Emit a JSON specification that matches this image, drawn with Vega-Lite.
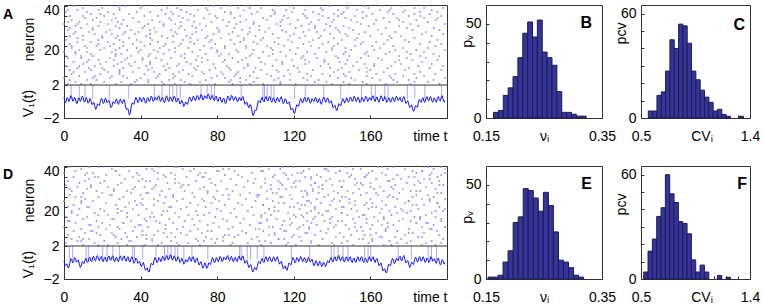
{
"$schema":"https://vega.github.io/schema/vega-lite/v6.json",
"padding":{"left":2,"top":2,"right":2,"bottom":0},
"config":{
 "font":"Liberation Sans",
 "view":{"stroke":"#333333","strokeWidth":1},
 "axis":{"labelFont":"Liberation Sans","labelFontSize":14,"labelColor":"#000000","titleFont":"Liberation Sans","titleFontSize":14,"titleFontWeight":"normal","titleColor":"#000000","domain":false,"grid":false,"tickColor":"#333333","tickSize":-3,"tickWidth":1,"labelOverlap":false,"labelFlush":false},
 "title":{"font":"Liberation Sans","fontWeight":"bold","color":"#000000","frame":"group"}
},
"datasets":{
"va":[{"t":0,"v":0.5},{"t":1,"v":-0.1},{"t":2,"v":0.4},{"t":3,"v":0.2},{"t":4,"v":0.6},{"t":5,"v":0.1},{"t":6,"v":0.3},{"t":7,"v":-0.2},{"t":8,"v":0.4},{"t":9,"v":0.2},
{"t":10,"v":0.5},{"t":11,"v":0.0},{"t":12,"v":0.3},{"t":13,"v":-0.1},{"t":14,"v":0.2},{"t":15,"v":-0.3},{"t":16,"v":-0.5},{"t":17,"v":-0.8},{"t":18,"v":-0.4},{"t":19,"v":0.0},
{"t":20,"v":0.2},{"t":21,"v":-0.1},{"t":22,"v":0.3},{"t":23,"v":0.0},{"t":24,"v":-0.3},{"t":25,"v":-0.6},{"t":26,"v":-0.1},{"t":27,"v":0.2},{"t":28,"v":-0.2},{"t":29,"v":0.1},
{"t":30,"v":-0.1},{"t":31,"v":0.2},{"t":32,"v":-0.4},{"t":33,"v":-0.9},{"t":34,"v":-1.6},{"t":35,"v":-0.8},{"t":36,"v":-0.2},{"t":37,"v":0.1},{"t":38,"v":0.3},{"t":39,"v":0.0},
{"t":40,"v":0.4},{"t":41,"v":0.1},{"t":42,"v":0.3},{"t":43,"v":-0.1},{"t":44,"v":0.4},{"t":45,"v":0.2},{"t":46,"v":0.5},{"t":47,"v":0.1},{"t":48,"v":0.3},{"t":49,"v":0.6},
{"t":50,"v":0.2},{"t":51,"v":0.4},{"t":52,"v":0.0},{"t":53,"v":0.3},{"t":54,"v":0.5},{"t":55,"v":0.1},{"t":56,"v":0.4},{"t":57,"v":0.2},{"t":58,"v":0.5},{"t":59,"v":0.0},
{"t":60,"v":0.2},{"t":61,"v":-0.2},{"t":62,"v":-0.1},{"t":63,"v":-0.5},{"t":64,"v":-0.2},{"t":65,"v":0.1},{"t":66,"v":0.4},{"t":67,"v":0.2},{"t":68,"v":0.5},{"t":69,"v":0.3},
{"t":70,"v":0.6},{"t":71,"v":0.4},{"t":72,"v":0.7},{"t":73,"v":0.3},{"t":74,"v":0.5},{"t":75,"v":0.8},{"t":76,"v":0.4},{"t":77,"v":0.6},{"t":78,"v":0.3},{"t":79,"v":0.5},
{"t":80,"v":0.2},{"t":81,"v":0.4},{"t":82,"v":0.1},{"t":83,"v":0.3},{"t":84,"v":-0.1},{"t":85,"v":0.2},{"t":86,"v":0.5},{"t":87,"v":0.3},{"t":88,"v":0.6},{"t":89,"v":0.2},
{"t":90,"v":0.4},{"t":91,"v":0.1},{"t":92,"v":0.3},{"t":93,"v":0.5},{"t":94,"v":0.1},{"t":95,"v":-0.2},{"t":96,"v":-0.5},{"t":97,"v":-0.4},{"t":98,"v":-1.0},{"t":99,"v":-1.7},
{"t":100,"v":-1.1},{"t":101,"v":-0.4},{"t":102,"v":0.0},{"t":103,"v":0.3},{"t":104,"v":0.1},{"t":105,"v":0.4},{"t":106,"v":0.2},{"t":107,"v":0.5},{"t":108,"v":0.1},{"t":109,"v":0.3},
{"t":110,"v":0.0},{"t":111,"v":0.3},{"t":112,"v":0.1},{"t":113,"v":0.4},{"t":114,"v":0.2},{"t":115,"v":-0.1},{"t":116,"v":0.2},{"t":117,"v":-0.2},{"t":118,"v":-0.5},{"t":119,"v":-0.9},
{"t":120,"v":-1.4},{"t":121,"v":-0.9},{"t":122,"v":-0.5},{"t":123,"v":-0.1},{"t":124,"v":0.2},{"t":125,"v":0.0},{"t":126,"v":0.4},{"t":127,"v":0.1},{"t":128,"v":0.3},{"t":129,"v":-0.1},
{"t":130,"v":0.2},{"t":131,"v":0.4},{"t":132,"v":0.0},{"t":133,"v":0.3},{"t":134,"v":-0.2},{"t":135,"v":0.1},{"t":136,"v":0.4},{"t":137,"v":0.0},{"t":138,"v":0.3},{"t":139,"v":-0.1},
{"t":140,"v":-0.3},{"t":141,"v":-0.6},{"t":142,"v":-0.9},{"t":143,"v":-0.7},{"t":144,"v":-0.4},{"t":145,"v":-0.1},{"t":146,"v":0.2},{"t":147,"v":0.0},{"t":148,"v":0.3},{"t":149,"v":0.1},
{"t":150,"v":0.4},{"t":151,"v":0.2},{"t":152,"v":0.5},{"t":153,"v":0.1},{"t":154,"v":0.3},{"t":155,"v":0.0},{"t":156,"v":0.4},{"t":157,"v":0.2},{"t":158,"v":0.5},{"t":159,"v":0.1},
{"t":160,"v":0.3},{"t":161,"v":0.6},{"t":162,"v":0.2},{"t":163,"v":0.4},{"t":164,"v":0.1},{"t":165,"v":0.3},{"t":166,"v":0.5},{"t":167,"v":0.2},{"t":168,"v":0.4},{"t":169,"v":0.0},
{"t":170,"v":0.3},{"t":171,"v":0.1},{"t":172,"v":0.4},{"t":173,"v":0.2},{"t":174,"v":0.5},{"t":175,"v":0.3},{"t":176,"v":0.1},{"t":177,"v":0.4},{"t":178,"v":0.2},{"t":179,"v":-0.1},
{"t":180,"v":-0.3},{"t":181,"v":-0.6},{"t":182,"v":-0.8},{"t":183,"v":-1.0},{"t":184,"v":-0.6},{"t":185,"v":-0.2},{"t":186,"v":0.1},{"t":187,"v":0.3},{"t":188,"v":0.0},{"t":189,"v":0.4},
{"t":190,"v":0.2},{"t":191,"v":0.5},{"t":192,"v":0.1},{"t":193,"v":0.3},{"t":194,"v":0.0},{"t":195,"v":0.4},{"t":196,"v":0.2},{"t":197,"v":0.5},{"t":198,"v":0.3},{"t":199,"v":0.1},
{"t":0.5,"v":-0.1},{"t":1.5,"v":0.45},{"t":2.5,"v":0.0},{"t":3.5,"v":0.7},{"t":4.5,"v":0.05},{"t":5.5,"v":0.5},{"t":6.5,"v":-0.25},{"t":7.5,"v":0.4},{"t":8.5,"v":0.0},{"t":9.5,"v":0.65},
{"t":10.5,"v":-0.05},{"t":11.5,"v":0.45},{"t":12.5,"v":-0.2},{"t":13.5,"v":0.35},{"t":14.5,"v":-0.35},{"t":15.5,"v":-0.1},{"t":16.5,"v":-0.95},{"t":17.5,"v":-0.3},{"t":18.5,"v":-0.5},{"t":19.5,"v":0.4},
{"t":20.5,"v":-0.25},{"t":21.5,"v":0.4},{"t":22.5,"v":-0.15},{"t":23.5,"v":0.15},{"t":24.5,"v":-0.75},{"t":25.5,"v":-0.05},{"t":26.5,"v":-0.25},{"t":27.5,"v":0.3},{"t":28.5,"v":-0.35},{"t":29.5,"v":0.3},
{"t":30.5,"v":-0.25},{"t":31.5,"v":0.2},{"t":32.5,"v":-0.95},{"t":33.5,"v":-0.95},{"t":34.5,"v":-1.5},{"t":35.5,"v":-0.2},{"t":36.5,"v":-0.35},{"t":37.5,"v":0.5},{"t":38.5,"v":-0.15},{"t":39.5,"v":0.5},
{"t":40.5,"v":-0.05},{"t":41.5,"v":0.5},{"t":42.5,"v":-0.2},{"t":43.5,"v":0.45},{"t":44.5,"v":0.0},{"t":45.5,"v":0.65},{"t":46.5,"v":0.0},{"t":47.5,"v":0.5},{"t":48.5,"v":0.15},{"t":49.5,"v":0.7},
{"t":50.5,"v":0.0},{"t":51.5,"v":0.5},{"t":52.5,"v":-0.15},{"t":53.5,"v":0.7},{"t":54.5,"v":0.0},{"t":55.5,"v":0.55},{"t":56.5,"v":0.0},{"t":57.5,"v":0.65},{"t":58.5,"v":-0.05},{"t":59.5,"v":0.4},
{"t":60.5,"v":-0.3},{"t":61.5,"v":0.15},{"t":62.5,"v":-0.6},{"t":63.5,"v":-0.05},{"t":64.5,"v":-0.35},{"t":65.5,"v":0.55},{"t":66.5,"v":0.0},{"t":67.5,"v":0.65},{"t":68.5,"v":0.1},{"t":69.5,"v":0.75},
{"t":70.5,"v":0.2},{"t":71.5,"v":0.85},{"t":72.5,"v":0.2},{"t":73.5,"v":0.7},{"t":74.5,"v":0.35},{"t":75.5,"v":0.9},{"t":76.5,"v":0.2},{"t":77.5,"v":0.75},{"t":78.5,"v":0.1},{"t":79.5,"v":0.65},
{"t":80.5,"v":0.0},{"t":81.5,"v":0.55},{"t":82.5,"v":-0.1},{"t":83.5,"v":0.4},{"t":84.5,"v":-0.25},{"t":85.5,"v":0.65},{"t":86.5,"v":0.1},{"t":87.5,"v":0.75},{"t":88.5,"v":0.1},{"t":89.5,"v":0.6},
{"t":90.5,"v":-0.05},{"t":91.5,"v":0.5},{"t":92.5,"v":0.1},{"t":93.5,"v":0.6},{"t":94.5,"v":-0.35},{"t":95.5,"v":-0.05},{"t":96.5,"v":-0.75},{"t":97.5,"v":-0.4},{"t":98.5,"v":-1.65},{"t":99.5,"v":-1.1},
{"t":100.5,"v":-1.05},{"t":101.5,"v":0.1},{"t":102.5,"v":-0.15},{"t":103.5,"v":0.5},{"t":104.5,"v":-0.05},{"t":105.5,"v":0.6},{"t":106.5,"v":0.05},{"t":107.5,"v":0.6},{"t":108.5,"v":-0.1},{"t":109.5,"v":0.45},
{"t":110.5,"v":-0.15},{"t":111.5,"v":0.5},{"t":112.5,"v":-0.05},{"t":113.5,"v":0.6},{"t":114.5,"v":-0.25},{"t":115.5,"v":0.35},{"t":116.5,"v":-0.3},{"t":117.5,"v":-0.05},{"t":118.5,"v":-1.0},{"t":119.5,"v":-0.85},
{"t":120.5,"v":-1.45},{"t":121.5,"v":-0.4},{"t":122.5,"v":-0.6},{"t":123.5,"v":0.35},{"t":124.5,"v":-0.2},{"t":125.5,"v":0.5},{"t":126.5,"v":-0.05},{"t":127.5,"v":0.5},{"t":128.5,"v":-0.2},{"t":129.5,"v":0.35},
{"t":130.5,"v":0.0},{"t":131.5,"v":0.5},{"t":132.5,"v":-0.15},{"t":133.5,"v":0.35},{"t":134.5,"v":-0.35},{"t":135.5,"v":0.55},{"t":136.5,"v":-0.1},{"t":137.5,"v":0.45},{"t":138.5,"v":-0.2},{"t":139.5,"v":0.1},
{"t":140.5,"v":-0.75},{"t":141.5,"v":-0.45},{"t":142.5,"v":-1.1},{"t":143.5,"v":-0.25},{"t":144.5,"v":-0.55},{"t":145.5,"v":0.35},{"t":146.5,"v":-0.2},{"t":147.5,"v":0.45},{"t":148.5,"v":-0.1},{"t":149.5,"v":0.55},
{"t":150.5,"v":0.0},{"t":151.5,"v":0.65},{"t":152.5,"v":0.0},{"t":153.5,"v":0.5},{"t":154.5,"v":-0.15},{"t":155.5,"v":0.5},{"t":156.5,"v":0.0},{"t":157.5,"v":0.65},{"t":158.5,"v":0.0},{"t":159.5,"v":0.5},
{"t":160.5,"v":0.15},{"t":161.5,"v":0.7},{"t":162.5,"v":0.0},{"t":163.5,"v":0.55},{"t":164.5,"v":-0.1},{"t":165.5,"v":0.7},{"t":166.5,"v":0.05},{"t":167.5,"v":0.6},{"t":168.5,"v":-0.1},{"t":169.5,"v":0.45},
{"t":170.5,"v":-0.1},{"t":171.5,"v":0.55},{"t":172.5,"v":0.0},{"t":173.5,"v":0.65},{"t":174.5,"v":0.1},{"t":175.5,"v":0.5},{"t":176.5,"v":-0.05},{"t":177.5,"v":0.6},{"t":178.5,"v":-0.25},{"t":179.5,"v":0.1},
{"t":180.5,"v":-0.75},{"t":181.5,"v":-0.4},{"t":182.5,"v":-1.2},{"t":183.5,"v":-0.5},{"t":184.5,"v":-0.7},{"t":185.5,"v":0.25},{"t":186.5,"v":-0.1},{"t":187.5,"v":0.45},{"t":188.5,"v":-0.1},{"t":189.5,"v":0.6},
{"t":190.5,"v":0.05},{"t":191.5,"v":0.6},{"t":192.5,"v":-0.1},{"t":193.5,"v":0.45},{"t":194.5,"v":-0.1},{"t":195.5,"v":0.6},{"t":196.5,"v":0.05},{"t":197.5,"v":0.7},{"t":198.5,"v":-0.1}],
"vd":[{"t":0,"v":0.2},{"t":1,"v":-0.3},{"t":2,"v":-0.6},{"t":3,"v":-0.1},{"t":4,"v":0.4},{"t":5,"v":0.1},{"t":6,"v":0.5},{"t":7,"v":0.2},{"t":8,"v":-0.2},{"t":9,"v":-0.4},
{"t":10,"v":0.0},{"t":11,"v":0.3},{"t":12,"v":0.1},{"t":13,"v":0.5},{"t":14,"v":0.2},{"t":15,"v":0.6},{"t":16,"v":0.3},{"t":17,"v":0.7},{"t":18,"v":0.4},{"t":19,"v":0.6},
{"t":20,"v":0.3},{"t":21,"v":0.5},{"t":22,"v":0.2},{"t":23,"v":0.6},{"t":24,"v":0.4},{"t":25,"v":0.7},{"t":26,"v":0.3},{"t":27,"v":0.5},{"t":28,"v":0.2},{"t":29,"v":0.6},
{"t":30,"v":0.4},{"t":31,"v":0.7},{"t":32,"v":0.3},{"t":33,"v":0.6},{"t":34,"v":0.2},{"t":35,"v":0.5},{"t":36,"v":0.3},{"t":37,"v":0.1},{"t":38,"v":0.4},{"t":39,"v":0.0},
{"t":40,"v":-0.3},{"t":41,"v":-0.1},{"t":42,"v":-0.5},{"t":43,"v":-0.8},{"t":44,"v":-1.1},{"t":45,"v":-0.6},{"t":46,"v":-0.2},{"t":47,"v":0.2},{"t":48,"v":0.4},{"t":49,"v":0.1},
{"t":50,"v":0.5},{"t":51,"v":0.3},{"t":52,"v":0.6},{"t":53,"v":0.4},{"t":54,"v":0.7},{"t":55,"v":0.5},{"t":56,"v":0.8},{"t":57,"v":0.4},{"t":58,"v":0.6},{"t":59,"v":0.3},
{"t":60,"v":0.5},{"t":61,"v":0.1},{"t":62,"v":0.3},{"t":63,"v":-0.1},{"t":64,"v":0.2},{"t":65,"v":0.5},{"t":66,"v":0.3},{"t":67,"v":0.6},{"t":68,"v":0.2},{"t":69,"v":0.4},
{"t":70,"v":0.1},{"t":71,"v":-0.1},{"t":72,"v":-0.3},{"t":73,"v":-0.5},{"t":74,"v":-0.2},{"t":75,"v":-0.6},{"t":76,"v":-0.1},{"t":77,"v":0.2},{"t":78,"v":0.4},{"t":79,"v":0.1},
{"t":80,"v":0.5},{"t":81,"v":0.3},{"t":82,"v":0.6},{"t":83,"v":0.2},{"t":84,"v":0.5},{"t":85,"v":0.7},{"t":86,"v":0.4},{"t":87,"v":0.6},{"t":88,"v":0.3},{"t":89,"v":0.5},
{"t":90,"v":0.2},{"t":91,"v":0.6},{"t":92,"v":0.4},{"t":93,"v":0.7},{"t":94,"v":0.3},{"t":95,"v":0.1},{"t":96,"v":-0.2},{"t":97,"v":-0.4},{"t":98,"v":-0.7},{"t":99,"v":-1.0},
{"t":100,"v":-0.8},{"t":101,"v":-0.4},{"t":102,"v":0.0},{"t":103,"v":0.3},{"t":104,"v":0.1},{"t":105,"v":0.5},{"t":106,"v":0.3},{"t":107,"v":0.6},{"t":108,"v":0.2},{"t":109,"v":0.5},
{"t":110,"v":0.3},{"t":111,"v":0.6},{"t":112,"v":0.2},{"t":113,"v":0.0},{"t":114,"v":-0.3},{"t":115,"v":-0.6},{"t":116,"v":-0.8},{"t":117,"v":-0.5},{"t":118,"v":-0.2},{"t":119,"v":0.2},
{"t":120,"v":0.4},{"t":121,"v":0.1},{"t":122,"v":0.5},{"t":123,"v":0.3},{"t":124,"v":0.6},{"t":125,"v":0.2},{"t":126,"v":0.4},{"t":127,"v":0.1},{"t":128,"v":0.5},{"t":129,"v":0.2},
{"t":130,"v":0.0},{"t":131,"v":-0.2},{"t":132,"v":0.1},{"t":133,"v":-0.3},{"t":134,"v":0.0},{"t":135,"v":-0.4},{"t":136,"v":-0.1},{"t":137,"v":-0.3},{"t":138,"v":0.1},{"t":139,"v":0.4},
{"t":140,"v":0.2},{"t":141,"v":0.5},{"t":142,"v":0.3},{"t":143,"v":0.7},{"t":144,"v":0.4},{"t":145,"v":0.6},{"t":146,"v":0.2},{"t":147,"v":0.5},{"t":148,"v":0.3},{"t":149,"v":0.6},
{"t":150,"v":0.2},{"t":151,"v":0.4},{"t":152,"v":0.1},{"t":153,"v":0.5},{"t":154,"v":0.3},{"t":155,"v":0.6},{"t":156,"v":0.2},{"t":157,"v":0.4},{"t":158,"v":0.1},{"t":159,"v":0.5},
{"t":160,"v":0.3},{"t":161,"v":0.6},{"t":162,"v":0.2},{"t":163,"v":0.4},{"t":164,"v":0.0},{"t":165,"v":-0.2},{"t":166,"v":-0.5},{"t":167,"v":-0.9},{"t":168,"v":-1.2},{"t":169,"v":-0.7},
{"t":170,"v":-0.3},{"t":171,"v":0.1},{"t":172,"v":0.3},{"t":173,"v":0.0},{"t":174,"v":0.4},{"t":175,"v":0.6},{"t":176,"v":0.3},{"t":177,"v":0.7},{"t":178,"v":0.4},{"t":179,"v":0.1},
{"t":180,"v":-0.2},{"t":181,"v":-0.4},{"t":182,"v":-0.1},{"t":183,"v":0.2},{"t":184,"v":0.5},{"t":185,"v":0.2},{"t":186,"v":0.6},{"t":187,"v":0.3},{"t":188,"v":0.5},{"t":189,"v":0.1},
{"t":190,"v":0.4},{"t":191,"v":0.2},{"t":192,"v":0.6},{"t":193,"v":0.3},{"t":194,"v":0.0},{"t":195,"v":0.4},{"t":196,"v":0.1},{"t":197,"v":-0.1},{"t":198,"v":0.2},{"t":199,"v":0.0},
{"t":0.5,"v":-0.35},{"t":1.5,"v":-0.15},{"t":2.5,"v":-0.65},{"t":3.5,"v":0.45},{"t":4.5,"v":-0.05},{"t":5.5,"v":0.6},{"t":6.5,"v":0.05},{"t":7.5,"v":0.3},{"t":8.5,"v":-0.6},{"t":9.5,"v":0.1},
{"t":10.5,"v":-0.15},{"t":11.5,"v":0.5},{"t":12.5,"v":0.0},{"t":13.5,"v":0.65},{"t":14.5,"v":0.1},{"t":15.5,"v":0.75},{"t":16.5,"v":0.2},{"t":17.5,"v":0.85},{"t":18.5,"v":0.2},{"t":19.5,"v":0.75},
{"t":20.5,"v":0.1},{"t":21.5,"v":0.65},{"t":22.5,"v":0.1},{"t":23.5,"v":0.8},{"t":24.5,"v":0.25},{"t":25.5,"v":0.8},{"t":26.5,"v":0.1},{"t":27.5,"v":0.65},{"t":28.5,"v":0.1},{"t":29.5,"v":0.8},
{"t":30.5,"v":0.25},{"t":31.5,"v":0.8},{"t":32.5,"v":0.15},{"t":33.5,"v":0.7},{"t":34.5,"v":0.05},{"t":35.5,"v":0.7},{"t":36.5,"v":-0.1},{"t":37.5,"v":0.55},{"t":38.5,"v":-0.1},{"t":39.5,"v":0.15},
{"t":40.5,"v":-0.5},{"t":41.5,"v":0.0},{"t":42.5,"v":-0.95},{"t":43.5,"v":-0.65},{"t":44.5,"v":-1.15},{"t":45.5,"v":-0.1},{"t":46.5,"v":-0.3},{"t":47.5,"v":0.6},{"t":48.5,"v":-0.05},{"t":49.5,"v":0.6},
{"t":50.5,"v":0.1},{"t":51.5,"v":0.75},{"t":52.5,"v":0.2},{"t":53.5,"v":0.85},{"t":54.5,"v":0.3},{"t":55.5,"v":0.95},{"t":56.5,"v":0.3},{"t":57.5,"v":0.8},{"t":58.5,"v":0.15},{"t":59.5,"v":0.7},
{"t":60.5,"v":0.0},{"t":61.5,"v":0.5},{"t":62.5,"v":-0.2},{"t":63.5,"v":0.35},{"t":64.5,"v":0.05},{"t":65.5,"v":0.7},{"t":66.5,"v":0.15},{"t":67.5,"v":0.7},{"t":68.5,"v":0.0},{"t":69.5,"v":0.55},
{"t":70.5,"v":-0.3},{"t":71.5,"v":0.1},{"t":72.5,"v":-0.7},{"t":73.5,"v":-0.05},{"t":74.5,"v":-0.7},{"t":75.5,"v":-0.05},{"t":76.5,"v":-0.25},{"t":77.5,"v":0.6},{"t":78.5,"v":-0.05},{"t":79.5,"v":0.6},
{"t":80.5,"v":0.1},{"t":81.5,"v":0.75},{"t":82.5,"v":0.1},{"t":83.5,"v":0.65},{"t":84.5,"v":0.3},{"t":85.5,"v":0.85},{"t":86.5,"v":0.2},{"t":87.5,"v":0.75},{"t":88.5,"v":0.1},{"t":89.5,"v":0.65},
{"t":90.5,"v":0.1},{"t":91.5,"v":0.8},{"t":92.5,"v":0.25},{"t":93.5,"v":0.8},{"t":94.5,"v":-0.1},{"t":95.5,"v":0.25},{"t":96.5,"v":-0.6},{"t":97.5,"v":-0.25},{"t":98.5,"v":-1.15},{"t":99.5,"v":-0.6},
{"t":100.5,"v":-0.9},{"t":101.5,"v":0.1},{"t":102.5,"v":-0.15},{"t":103.5,"v":0.5},{"t":104.5,"v":0.0},{"t":105.5,"v":0.7},{"t":106.5,"v":0.15},{"t":107.5,"v":0.7},{"t":108.5,"v":0.05},{"t":109.5,"v":0.7},
{"t":110.5,"v":0.15},{"t":111.5,"v":0.7},{"t":112.5,"v":-0.2},{"t":113.5,"v":0.15},{"t":114.5,"v":-0.75},{"t":115.5,"v":-0.4},{"t":116.5,"v":-0.95},{"t":117.5,"v":-0.05},{"t":118.5,"v":-0.3},{"t":119.5,"v":0.6},
{"t":120.5,"v":-0.05},{"t":121.5,"v":0.6},{"t":122.5,"v":0.1},{"t":123.5,"v":0.75},{"t":124.5,"v":0.1},{"t":125.5,"v":0.6},{"t":126.5,"v":-0.05},{"t":127.5,"v":0.6},{"t":128.5,"v":0.05},{"t":129.5,"v":0.4},
{"t":130.5,"v":-0.4},{"t":131.5,"v":0.25},{"t":132.5,"v":-0.4},{"t":133.5,"v":0.15},{"t":134.5,"v":-0.5},{"t":135.5,"v":0.05},{"t":136.5,"v":-0.5},{"t":137.5,"v":0.2},{"t":138.5,"v":-0.05},{"t":139.5,"v":0.6},
{"t":140.5,"v":0.05},{"t":141.5,"v":0.7},{"t":142.5,"v":0.2},{"t":143.5,"v":0.85},{"t":144.5,"v":0.2},{"t":145.5,"v":0.7},{"t":146.5,"v":0.05},{"t":147.5,"v":0.7},{"t":148.5,"v":0.15},{"t":149.5,"v":0.7},
{"t":150.5,"v":0.0},{"t":151.5,"v":0.55},{"t":152.5,"v":0.0},{"t":153.5,"v":0.7},{"t":154.5,"v":0.15},{"t":155.5,"v":0.7},{"t":156.5,"v":0.0},{"t":157.5,"v":0.55},{"t":158.5,"v":0.0},{"t":159.5,"v":0.7},
{"t":160.5,"v":0.15},{"t":161.5,"v":0.7},{"t":162.5,"v":0.0},{"t":163.5,"v":0.5},{"t":164.5,"v":-0.4},{"t":165.5,"v":-0.05},{"t":166.5,"v":-1.0},{"t":167.5,"v":-0.75},{"t":168.5,"v":-1.25},{"t":169.5,"v":-0.2},
{"t":170.5,"v":-0.4},{"t":171.5,"v":0.5},{"t":172.5,"v":-0.15},{"t":173.5,"v":0.5},{"t":174.5,"v":0.2},{"t":175.5,"v":0.75},{"t":176.5,"v":0.2},{"t":177.5,"v":0.85},{"t":178.5,"v":-0.05},{"t":179.5,"v":0.25},
{"t":180.5,"v":-0.6},{"t":181.5,"v":0.05},{"t":182.5,"v":-0.25},{"t":183.5,"v":0.65},{"t":184.5,"v":0.05},{"t":185.5,"v":0.7},{"t":186.5,"v":0.15},{"t":187.5,"v":0.7},{"t":188.5,"v":0.0},{"t":189.5,"v":0.55},
{"t":190.5,"v":0.0},{"t":191.5,"v":0.7},{"t":192.5,"v":0.15},{"t":193.5,"v":0.45},{"t":194.5,"v":-0.1},{"t":195.5,"v":0.55},{"t":196.5,"v":-0.3},{"t":197.5,"v":0.35},{"t":198.5,"v":-0.2}],
"sa":[{"t":3.7},{"t":8.0},{"t":11.0},{"t":15.0},{"t":23.7},{"t":33.8},{"t":47.2},{"t":51.2},{"t":55.1},{"t":56.8},{"t":58.9},{"t":60.7},{"t":71.6},{"t":74.8},{"t":76.9},{"t":78.6},{"t":92.5},{"t":103.9},{"t":104.7},{"t":106.1},{"t":108.2},{"t":109.6},{"t":120.4},{"t":126.0},{"t":135.6},{"t":144.5},{"t":155.3},{"t":160.5},{"t":162.6},{"t":167.5},{"t":169.2},{"t":179.3},{"t":183.2},{"t":188.4},{"t":197.1}],
"sd":[{"t":2.8},{"t":4.5},{"t":11.5},{"t":12.7},{"t":20.2},{"t":22.5},{"t":25.5},{"t":28.9},{"t":35.9},{"t":36.8},{"t":41.1},{"t":48.1},{"t":52.5},{"t":54.2},{"t":55.9},{"t":58.0},{"t":59.4},{"t":62.6},{"t":66.8},{"t":75.1},{"t":91.7},{"t":92.5},{"t":95.7},{"t":97.4},{"t":100.9},{"t":104.4},{"t":118.7},{"t":128.3},{"t":139.6},{"t":141.0},{"t":143.1},{"t":145.7},{"t":148.3},{"t":157.0},{"t":158.8},{"t":160.2},{"t":174.5},{"t":181.4},{"t":190.2},{"t":191.9},{"t":194.5}],
"sep":[{"v":2}],
"ra":[
{"t":2,"n":1},{"t":9,"n":1},{"t":27,"n":1},{"t":35,"n":1},{"t":52,"n":1},{"t":58,"n":1},{"t":79,"n":1},{"t":97,"n":1},{"t":104,"n":1},{"t":121,"n":1},{"t":140,"n":1},{"t":149,"n":1},{"t":168,"n":1},{"t":181,"n":1},{"t":196,"n":1},
{"t":6,"n":2},{"t":21,"n":2},{"t":30,"n":2},{"t":44,"n":2},{"t":63,"n":2},{"t":71,"n":2},{"t":86,"n":2},{"t":92,"n":2},{"t":113,"n":2},{"t":131,"n":2},{"t":137,"n":2},{"t":156,"n":2},{"t":174,"n":2},{"t":190,"n":2},
{"t":12,"n":3},{"t":17,"n":3},{"t":38,"n":3},{"t":55,"n":3},{"t":61,"n":3},{"t":74,"n":3},{"t":95,"n":3},{"t":110,"n":3},{"t":118,"n":3},{"t":133,"n":3},{"t":152,"n":3},{"t":165,"n":3},{"t":172,"n":3},{"t":193,"n":3},
{"t":0,"n":4},{"t":15,"n":4},{"t":33,"n":4},{"t":40,"n":4},{"t":57,"n":4},{"t":77,"n":4},{"t":84,"n":4},{"t":101,"n":4},{"t":125,"n":4},{"t":143,"n":4},{"t":150,"n":4},{"t":161,"n":4},{"t":184,"n":4},{"t":199,"n":4},
{"t":8,"n":5},{"t":25,"n":5},{"t":31,"n":5},{"t":49,"n":5},{"t":67,"n":5},{"t":80,"n":5},{"t":89,"n":5},{"t":108,"n":5},{"t":115,"n":5},{"t":129,"n":5},{"t":147,"n":5},{"t":170,"n":5},{"t":177,"n":5},{"t":188,"n":5},
{"t":4,"n":6},{"t":19,"n":6},{"t":42,"n":6},{"t":50,"n":6},{"t":65,"n":6},{"t":73,"n":6},{"t":90,"n":6},{"t":106,"n":6},{"t":127,"n":6},{"t":135,"n":6},{"t":146,"n":6},{"t":163,"n":6},{"t":183,"n":6},{"t":194,"n":6},
{"t":11,"n":7},{"t":23,"n":7},{"t":36,"n":7},{"t":47,"n":7},{"t":60,"n":7},{"t":82,"n":7},{"t":99,"n":7},{"t":112,"n":7},{"t":123,"n":7},{"t":141,"n":7},{"t":158,"n":7},{"t":167,"n":7},{"t":186,"n":7},
{"t":3,"n":8},{"t":14,"n":8},{"t":29,"n":8},{"t":53,"n":8},{"t":62,"n":8},{"t":76,"n":8},{"t":87,"n":8},{"t":103,"n":8},{"t":117,"n":8},{"t":130,"n":8},{"t":154,"n":8},{"t":160,"n":8},{"t":178,"n":8},{"t":197,"n":8},
{"t":7,"n":9},{"t":20,"n":9},{"t":39,"n":9},{"t":46,"n":9},{"t":68,"n":9},{"t":79,"n":9},{"t":94,"n":9},{"t":100,"n":9},{"t":122,"n":9},{"t":139,"n":9},{"t":145,"n":9},{"t":169,"n":9},{"t":180,"n":9},{"t":191,"n":9},
{"t":1,"n":10},{"t":16,"n":10},{"t":26,"n":10},{"t":43,"n":10},{"t":59,"n":10},{"t":70,"n":10},{"t":85,"n":10},{"t":109,"n":10},{"t":120,"n":10},{"t":134,"n":10},{"t":151,"n":10},{"t":171,"n":10},{"t":185,"n":10},{"t":198,"n":10},
{"t":10,"n":11},{"t":28,"n":11},{"t":34,"n":11},{"t":54,"n":11},{"t":66,"n":11},{"t":78,"n":11},{"t":96,"n":11},{"t":105,"n":11},{"t":126,"n":11},{"t":138,"n":11},{"t":157,"n":11},{"t":162,"n":11},{"t":176,"n":11},{"t":192,"n":11},
{"t":5,"n":12},{"t":22,"n":12},{"t":37,"n":12},{"t":45,"n":12},{"t":64,"n":12},{"t":83,"n":12},{"t":91,"n":12},{"t":114,"n":12},{"t":128,"n":12},{"t":144,"n":12},{"t":153,"n":12},{"t":173,"n":12},{"t":187,"n":12},
{"t":13,"n":13},{"t":18,"n":13},{"t":32,"n":13},{"t":51,"n":13},{"t":69,"n":13},{"t":75,"n":13},{"t":93,"n":13},{"t":111,"n":13},{"t":119,"n":13},{"t":136,"n":13},{"t":148,"n":13},{"t":166,"n":13},{"t":182,"n":13},{"t":195,"n":13},
{"t":2,"n":14},{"t":24,"n":14},{"t":41,"n":14},{"t":48,"n":14},{"t":56,"n":14},{"t":72,"n":14},{"t":88,"n":14},{"t":102,"n":14},{"t":124,"n":14},{"t":132,"n":14},{"t":155,"n":14},{"t":164,"n":14},{"t":179,"n":14},{"t":189,"n":14},
{"t":9,"n":15},{"t":15,"n":15},{"t":35,"n":15},{"t":44,"n":15},{"t":61,"n":15},{"t":81,"n":15},{"t":97,"n":15},{"t":107,"n":15},{"t":116,"n":15},{"t":142,"n":15},{"t":149,"n":15},{"t":159,"n":15},{"t":175,"n":15},{"t":196,"n":15},
{"t":6,"n":16},{"t":27,"n":16},{"t":30,"n":16},{"t":52,"n":16},{"t":63,"n":16},{"t":74,"n":16},{"t":86,"n":16},{"t":98,"n":16},{"t":121,"n":16},{"t":131,"n":16},{"t":146,"n":16},{"t":168,"n":16},{"t":181,"n":16},{"t":193,"n":16},
{"t":0,"n":17},{"t":12,"n":17},{"t":25,"n":17},{"t":39,"n":17},{"t":58,"n":17},{"t":67,"n":17},{"t":80,"n":17},{"t":104,"n":17},{"t":113,"n":17},{"t":127,"n":17},{"t":137,"n":17},{"t":158,"n":17},{"t":170,"n":17},{"t":188,"n":17},
{"t":8,"n":18},{"t":19,"n":18},{"t":33,"n":18},{"t":47,"n":18},{"t":55,"n":18},{"t":71,"n":18},{"t":90,"n":18},{"t":99,"n":18},{"t":118,"n":18},{"t":140,"n":18},{"t":150,"n":18},{"t":162,"n":18},{"t":184,"n":18},{"t":199,"n":18},
{"t":4,"n":19},{"t":21,"n":19},{"t":38,"n":19},{"t":50,"n":19},{"t":65,"n":19},{"t":77,"n":19},{"t":84,"n":19},{"t":108,"n":19},{"t":122,"n":19},{"t":133,"n":19},{"t":147,"n":19},{"t":165,"n":19},{"t":177,"n":19},{"t":190,"n":19},
{"t":11,"n":20},{"t":17,"n":20},{"t":31,"n":20},{"t":42,"n":20},{"t":60,"n":20},{"t":73,"n":20},{"t":95,"n":20},{"t":106,"n":20},{"t":115,"n":20},{"t":129,"n":20},{"t":152,"n":20},{"t":161,"n":20},{"t":172,"n":20},{"t":194,"n":20},
{"t":3,"n":21},{"t":26,"n":21},{"t":36,"n":21},{"t":53,"n":21},{"t":68,"n":21},{"t":79,"n":21},{"t":89,"n":21},{"t":101,"n":21},{"t":125,"n":21},{"t":135,"n":21},{"t":143,"n":21},{"t":167,"n":21},{"t":186,"n":21},{"t":197,"n":21},
{"t":14,"n":22},{"t":23,"n":22},{"t":40,"n":22},{"t":49,"n":22},{"t":57,"n":22},{"t":76,"n":22},{"t":92,"n":22},{"t":110,"n":22},{"t":119,"n":22},{"t":138,"n":22},{"t":156,"n":22},{"t":163,"n":22},{"t":180,"n":22},{"t":191,"n":22},
{"t":1,"n":23},{"t":18,"n":23},{"t":29,"n":23},{"t":46,"n":23},{"t":62,"n":23},{"t":70,"n":23},{"t":87,"n":23},{"t":103,"n":23},{"t":117,"n":23},{"t":130,"n":23},{"t":145,"n":23},{"t":169,"n":23},{"t":178,"n":23},{"t":195,"n":23},
{"t":7,"n":24},{"t":20,"n":24},{"t":34,"n":24},{"t":54,"n":24},{"t":66,"n":24},{"t":82,"n":24},{"t":94,"n":24},{"t":112,"n":24},{"t":123,"n":24},{"t":141,"n":24},{"t":153,"n":24},{"t":171,"n":24},{"t":183,"n":24},
{"t":10,"n":25},{"t":28,"n":25},{"t":43,"n":25},{"t":51,"n":25},{"t":64,"n":25},{"t":75,"n":25},{"t":91,"n":25},{"t":100,"n":25},{"t":126,"n":25},{"t":134,"n":25},{"t":148,"n":25},{"t":160,"n":25},{"t":176,"n":25},{"t":192,"n":25},
{"t":5,"n":26},{"t":16,"n":26},{"t":37,"n":26},{"t":45,"n":26},{"t":59,"n":26},{"t":78,"n":26},{"t":96,"n":26},{"t":109,"n":26},{"t":120,"n":26},{"t":139,"n":26},{"t":154,"n":26},{"t":166,"n":26},{"t":187,"n":26},{"t":198,"n":26},
{"t":13,"n":27},{"t":22,"n":27},{"t":32,"n":27},{"t":48,"n":27},{"t":69,"n":27},{"t":81,"n":27},{"t":88,"n":27},{"t":105,"n":27},{"t":116,"n":27},{"t":132,"n":27},{"t":144,"n":27},{"t":157,"n":27},{"t":173,"n":27},{"t":189,"n":27},
{"t":2,"n":28},{"t":24,"n":28},{"t":35,"n":28},{"t":56,"n":28},{"t":63,"n":28},{"t":72,"n":28},{"t":93,"n":28},{"t":114,"n":28},{"t":128,"n":28},{"t":136,"n":28},{"t":151,"n":28},{"t":164,"n":28},{"t":182,"n":28},{"t":196,"n":28},
{"t":9,"n":29},{"t":15,"n":29},{"t":41,"n":29},{"t":47,"n":29},{"t":60,"n":29},{"t":80,"n":29},{"t":97,"n":29},{"t":107,"n":29},{"t":121,"n":29},{"t":142,"n":29},{"t":149,"n":29},{"t":168,"n":29},{"t":179,"n":29},{"t":193,"n":29},
{"t":6,"n":30},{"t":27,"n":30},{"t":33,"n":30},{"t":52,"n":30},{"t":67,"n":30},{"t":74,"n":30},{"t":85,"n":30},{"t":102,"n":30},{"t":124,"n":30},{"t":131,"n":30},{"t":146,"n":30},{"t":159,"n":30},{"t":175,"n":30},{"t":185,"n":30},
{"t":0,"n":31},{"t":12,"n":31},{"t":30,"n":31},{"t":44,"n":31},{"t":58,"n":31},{"t":71,"n":31},{"t":90,"n":31},{"t":111,"n":31},{"t":118,"n":31},{"t":137,"n":31},{"t":155,"n":31},{"t":162,"n":31},{"t":181,"n":31},{"t":199,"n":31},
{"t":8,"n":32},{"t":19,"n":32},{"t":39,"n":32},{"t":50,"n":32},{"t":61,"n":32},{"t":77,"n":32},{"t":86,"n":32},{"t":99,"n":32},{"t":113,"n":32},{"t":129,"n":32},{"t":140,"n":32},{"t":170,"n":32},{"t":177,"n":32},{"t":190,"n":32},
{"t":4,"n":33},{"t":25,"n":33},{"t":31,"n":33},{"t":46,"n":33},{"t":65,"n":33},{"t":83,"n":33},{"t":95,"n":33},{"t":106,"n":33},{"t":122,"n":33},{"t":133,"n":33},{"t":150,"n":33},{"t":163,"n":33},{"t":184,"n":33},{"t":194,"n":33},
{"t":11,"n":34},{"t":17,"n":34},{"t":36,"n":34},{"t":55,"n":34},{"t":62,"n":34},{"t":73,"n":34},{"t":89,"n":34},{"t":104,"n":34},{"t":127,"n":34},{"t":138,"n":34},{"t":147,"n":34},{"t":167,"n":34},{"t":174,"n":34},{"t":188,"n":34},
{"t":3,"n":35},{"t":21,"n":35},{"t":42,"n":35},{"t":49,"n":35},{"t":68,"n":35},{"t":79,"n":35},{"t":92,"n":35},{"t":108,"n":35},{"t":115,"n":35},{"t":135,"n":35},{"t":152,"n":35},{"t":158,"n":35},{"t":180,"n":35},{"t":197,"n":35},
{"t":14,"n":36},{"t":26,"n":36},{"t":34,"n":36},{"t":53,"n":36},{"t":57,"n":36},{"t":76,"n":36},{"t":98,"n":36},{"t":110,"n":36},{"t":125,"n":36},{"t":141,"n":36},{"t":145,"n":36},{"t":161,"n":36},{"t":172,"n":36},{"t":191,"n":36},
{"t":1,"n":37},{"t":23,"n":37},{"t":38,"n":37},{"t":45,"n":37},{"t":64,"n":37},{"t":84,"n":37},{"t":87,"n":37},{"t":101,"n":37},{"t":119,"n":37},{"t":130,"n":37},{"t":156,"n":37},{"t":169,"n":37},{"t":186,"n":37},{"t":195,"n":37},
{"t":7,"n":38},{"t":18,"n":38},{"t":29,"n":38},{"t":51,"n":38},{"t":70,"n":38},{"t":75,"n":38},{"t":94,"n":38},{"t":116,"n":38},{"t":126,"n":38},{"t":143,"n":38},{"t":153,"n":38},{"t":165,"n":38},{"t":178,"n":38},{"t":192,"n":38},
{"t":10,"n":39},{"t":20,"n":39},{"t":40,"n":39},{"t":54,"n":39},{"t":59,"n":39},{"t":82,"n":39},{"t":91,"n":39},{"t":103,"n":39},{"t":120,"n":39},{"t":134,"n":39},{"t":148,"n":39},{"t":171,"n":39},{"t":183,"n":39},{"t":198,"n":39},
{"t":5,"n":40},{"t":28,"n":40},{"t":32,"n":40},{"t":48,"n":40},{"t":66,"n":40},{"t":78,"n":40},{"t":96,"n":40},{"t":112,"n":40},{"t":128,"n":40},{"t":139,"n":40},{"t":157,"n":40},{"t":166,"n":40},{"t":176,"n":40},{"t":189,"n":40},
{"t":14,"n":1},{"t":66,"n":1},{"t":88,"n":1},{"t":113,"n":1},{"t":158,"n":1},
{"t":37,"n":2},{"t":51,"n":2},{"t":99,"n":2},{"t":146,"n":2},{"t":183,"n":2},
{"t":3,"n":3},{"t":44,"n":3},{"t":87,"n":3},{"t":127,"n":3},{"t":180,"n":3},
{"t":24,"n":4},{"t":48,"n":4},{"t":92,"n":4},{"t":112,"n":4},{"t":171,"n":4},
{"t":16,"n":5},{"t":58,"n":5},{"t":97,"n":5},{"t":139,"n":5},{"t":158,"n":5},
{"t":29,"n":6},{"t":57,"n":6},{"t":83,"n":6},{"t":118,"n":6},{"t":173,"n":6},
{"t":5,"n":7},{"t":29,"n":7},{"t":72,"n":7},{"t":91,"n":7},{"t":149,"n":7},
{"t":21,"n":8},{"t":44,"n":8},{"t":69,"n":8},{"t":111,"n":8},{"t":143,"n":8},
{"t":13,"n":9},{"t":31,"n":9},{"t":55,"n":9},{"t":86,"n":9},{"t":158,"n":9},
{"t":8,"n":10},{"t":35,"n":10},{"t":52,"n":10},{"t":96,"n":10},{"t":162,"n":10},
{"t":19,"n":11},{"t":45,"n":11},{"t":60,"n":11},{"t":114,"n":11},{"t":147,"n":11},
{"t":12,"n":12},{"t":30,"n":12},{"t":72,"n":12},{"t":103,"n":12},{"t":136,"n":12},
{"t":26,"n":13},{"t":41,"n":13},{"t":84,"n":13},{"t":126,"n":13},{"t":175,"n":13},
{"t":9,"n":14},{"t":33,"n":14},{"t":63,"n":14},{"t":95,"n":14},{"t":143,"n":14},
{"t":1,"n":15},{"t":27,"n":15},{"t":70,"n":15},{"t":125,"n":15},{"t":186,"n":15},
{"t":14,"n":16},{"t":45,"n":16},{"t":82,"n":16},{"t":109,"n":16},{"t":157,"n":16},
{"t":6,"n":17},{"t":49,"n":17},{"t":91,"n":17},{"t":147,"n":17},{"t":179,"n":17},
{"t":27,"n":18},{"t":40,"n":18},{"t":80,"n":18},{"t":109,"n":18},{"t":173,"n":18},
{"t":12,"n":19},{"t":29,"n":19},{"t":58,"n":19},{"t":95,"n":19},{"t":140,"n":19},
{"t":4,"n":20},{"t":24,"n":20},{"t":52,"n":20},{"t":84,"n":20},{"t":141,"n":20},
{"t":18,"n":21},{"t":45,"n":21},{"t":61,"n":21},{"t":112,"n":21},{"t":155,"n":21},
{"t":7,"n":22},{"t":31,"n":22},{"t":66,"n":22},{"t":99,"n":22},{"t":128,"n":22},
{"t":10,"n":23},{"t":38,"n":23},{"t":77,"n":23},{"t":94,"n":23},{"t":152,"n":23},
{"t":27,"n":24},{"t":45,"n":24},{"t":74,"n":24},{"t":104,"n":24},{"t":133,"n":24},
{"t":3,"n":25},{"t":20,"n":25},{"t":57,"n":25},{"t":118,"n":25},{"t":170,"n":25},
{"t":25,"n":26},{"t":31,"n":26},{"t":67,"n":26},{"t":86,"n":26},{"t":147,"n":26},
{"t":6,"n":27},{"t":39,"n":27},{"t":58,"n":27},{"t":97,"n":27},{"t":125,"n":27},
{"t":15,"n":28},{"t":45,"n":28},{"t":81,"n":28},{"t":102,"n":28},{"t":143,"n":28},
{"t":3,"n":29},{"t":29,"n":29},{"t":69,"n":29},{"t":89,"n":29},{"t":131,"n":29},
{"t":18,"n":30},{"t":42,"n":30},{"t":61,"n":30},{"t":113,"n":30},{"t":139,"n":30},
{"t":7,"n":31},{"t":23,"n":31},{"t":52,"n":31},{"t":99,"n":31},{"t":128,"n":31},
{"t":2,"n":32},{"t":28,"n":32},{"t":68,"n":32},{"t":92,"n":32},{"t":153,"n":32},
{"t":15,"n":33},{"t":56,"n":33},{"t":114,"n":33},{"t":141,"n":33},{"t":175,"n":33},
{"t":27,"n":34},{"t":80,"n":34},{"t":117,"n":34},{"t":156,"n":34},{"t":195,"n":34},
{"t":10,"n":35},{"t":60,"n":35},{"t":126,"n":35},{"t":143,"n":35},{"t":186,"n":35},
{"t":19,"n":36},{"t":66,"n":36},{"t":87,"n":36},{"t":133,"n":36},{"t":183,"n":36},
{"t":12,"n":37},{"t":56,"n":37},{"t":110,"n":37},{"t":146,"n":37},{"t":177,"n":37},
{"t":2,"n":38},{"t":61,"n":38},{"t":109,"n":38},{"t":135,"n":38},{"t":170,"n":38},
{"t":29,"n":39},{"t":74,"n":39},{"t":97,"n":39},{"t":159,"n":39},{"t":188,"n":39},
{"t":16,"n":40},{"t":41,"n":40},{"t":87,"n":40},{"t":118,"n":40},{"t":149,"n":40}],
"rd":[
{"t":194,"n":1},{"t":171,"n":1},{"t":167,"n":1},{"t":151,"n":1},{"t":133,"n":1},{"t":121,"n":1},{"t":103,"n":1},{"t":87,"n":1},{"t":71,"n":1},{"t":60,"n":1},{"t":42,"n":1},{"t":33,"n":1},{"t":23,"n":1},{"t":10,"n":1},
{"t":189,"n":2},{"t":179,"n":2},{"t":159,"n":2},{"t":145,"n":2},{"t":140,"n":2},{"t":117,"n":2},{"t":108,"n":2},{"t":96,"n":2},{"t":79,"n":2},{"t":65,"n":2},{"t":51,"n":2},{"t":28,"n":2},{"t":16,"n":2},{"t":1,"n":2},
{"t":192,"n":3},{"t":181,"n":3},{"t":170,"n":3},{"t":148,"n":3},{"t":129,"n":3},{"t":124,"n":3},{"t":105,"n":3},{"t":83,"n":3},{"t":73,"n":3},{"t":56,"n":3},{"t":46,"n":3},{"t":34,"n":3},{"t":21,"n":3},{"t":7,"n":3},
{"t":198,"n":4},{"t":176,"n":4},{"t":161,"n":4},{"t":154,"n":4},{"t":135,"n":4},{"t":115,"n":4},{"t":112,"n":4},{"t":98,"n":4},{"t":80,"n":4},{"t":69,"n":4},{"t":43,"n":4},{"t":30,"n":4},{"t":13,"n":4},{"t":4,"n":4},
{"t":185,"n":5},{"t":173,"n":5},{"t":165,"n":5},{"t":146,"n":5},{"t":142,"n":5},{"t":123,"n":5},{"t":101,"n":5},{"t":89,"n":5},{"t":74,"n":5},{"t":58,"n":5},{"t":54,"n":5},{"t":38,"n":5},{"t":27,"n":5},{"t":8,"n":5},
{"t":196,"n":6},{"t":178,"n":6},{"t":157,"n":6},{"t":150,"n":6},{"t":131,"n":6},{"t":120,"n":6},{"t":107,"n":6},{"t":91,"n":6},{"t":84,"n":6},{"t":64,"n":6},{"t":47,"n":6},{"t":41,"n":6},{"t":19,"n":6},{"t":2,"n":6},
{"t":188,"n":7},{"t":182,"n":7},{"t":163,"n":7},{"t":144,"n":7},{"t":137,"n":7},{"t":126,"n":7},{"t":110,"n":7},{"t":95,"n":7},{"t":72,"n":7},{"t":61,"n":7},{"t":52,"n":7},{"t":32,"n":7},{"t":25,"n":7},{"t":11,"n":7},
{"t":195,"n":8},{"t":174,"n":8},{"t":168,"n":8},{"t":153,"n":8},{"t":134,"n":8},{"t":116,"n":8},{"t":104,"n":8},{"t":93,"n":8},{"t":77,"n":8},{"t":66,"n":8},{"t":49,"n":8},{"t":36,"n":8},{"t":15,"n":8},{"t":5,"n":8},
{"t":191,"n":9},{"t":180,"n":9},{"t":160,"n":9},{"t":149,"n":9},{"t":138,"n":9},{"t":122,"n":9},{"t":113,"n":9},{"t":100,"n":9},{"t":86,"n":9},{"t":70,"n":9},{"t":59,"n":9},{"t":29,"n":9},{"t":22,"n":9},{"t":9,"n":9},
{"t":199,"n":10},{"t":187,"n":10},{"t":169,"n":10},{"t":155,"n":10},{"t":141,"n":10},{"t":128,"n":10},{"t":109,"n":10},{"t":88,"n":10},{"t":81,"n":10},{"t":62,"n":10},{"t":44,"n":10},{"t":37,"n":10},{"t":18,"n":10},{"t":0,"n":10},
{"t":193,"n":11},{"t":172,"n":11},{"t":166,"n":11},{"t":147,"n":11},{"t":132,"n":11},{"t":125,"n":11},{"t":114,"n":11},{"t":97,"n":11},{"t":75,"n":11},{"t":68,"n":11},{"t":53,"n":11},{"t":40,"n":11},{"t":24,"n":11},{"t":14,"n":11},
{"t":190,"n":12},{"t":184,"n":12},{"t":158,"n":12},{"t":152,"n":12},{"t":139,"n":12},{"t":119,"n":12},{"t":102,"n":12},{"t":92,"n":12},{"t":78,"n":12},{"t":57,"n":12},{"t":50,"n":12},{"t":31,"n":12},{"t":20,"n":12},{"t":6,"n":12},
{"t":197,"n":13},{"t":175,"n":13},{"t":164,"n":13},{"t":143,"n":13},{"t":136,"n":13},{"t":127,"n":13},{"t":106,"n":13},{"t":85,"n":13},{"t":71,"n":13},{"t":63,"n":13},{"t":48,"n":13},{"t":35,"n":13},{"t":17,"n":13},{"t":3,"n":13},
{"t":186,"n":14},{"t":177,"n":14},{"t":167,"n":14},{"t":151,"n":14},{"t":130,"n":14},{"t":118,"n":14},{"t":111,"n":14},{"t":94,"n":14},{"t":83,"n":14},{"t":67,"n":14},{"t":55,"n":14},{"t":42,"n":14},{"t":26,"n":14},{"t":10,"n":14},
{"t":194,"n":15},{"t":183,"n":15},{"t":162,"n":15},{"t":154,"n":15},{"t":140,"n":15},{"t":121,"n":15},{"t":103,"n":15},{"t":90,"n":15},{"t":79,"n":15},{"t":60,"n":15},{"t":45,"n":15},{"t":33,"n":15},{"t":12,"n":15},{"t":1,"n":15},
{"t":189,"n":16},{"t":171,"n":16},{"t":156,"n":16},{"t":148,"n":16},{"t":135,"n":16},{"t":124,"n":16},{"t":108,"n":16},{"t":99,"n":16},{"t":73,"n":16},{"t":65,"n":16},{"t":51,"n":16},{"t":39,"n":16},{"t":23,"n":16},{"t":7,"n":16},
{"t":192,"n":17},{"t":179,"n":17},{"t":165,"n":17},{"t":145,"n":17},{"t":133,"n":17},{"t":117,"n":17},{"t":105,"n":17},{"t":87,"n":17},{"t":76,"n":17},{"t":58,"n":17},{"t":46,"n":17},{"t":28,"n":17},{"t":16,"n":17},
{"t":198,"n":18},{"t":181,"n":18},{"t":170,"n":18},{"t":153,"n":18},{"t":137,"n":18},{"t":129,"n":18},{"t":112,"n":18},{"t":96,"n":18},{"t":82,"n":18},{"t":69,"n":18},{"t":54,"n":18},{"t":30,"n":18},{"t":21,"n":18},{"t":4,"n":18},
{"t":185,"n":19},{"t":176,"n":19},{"t":159,"n":19},{"t":150,"n":19},{"t":142,"n":19},{"t":123,"n":19},{"t":107,"n":19},{"t":89,"n":19},{"t":80,"n":19},{"t":61,"n":19},{"t":43,"n":19},{"t":36,"n":19},{"t":19,"n":19},{"t":8,"n":19},
{"t":196,"n":20},{"t":173,"n":20},{"t":163,"n":20},{"t":146,"n":20},{"t":131,"n":20},{"t":120,"n":20},{"t":110,"n":20},{"t":98,"n":20},{"t":74,"n":20},{"t":64,"n":20},{"t":56,"n":20},{"t":32,"n":20},{"t":13,"n":20},{"t":2,"n":20},
{"t":188,"n":21},{"t":182,"n":21},{"t":168,"n":21},{"t":157,"n":21},{"t":139,"n":21},{"t":126,"n":21},{"t":104,"n":21},{"t":93,"n":21},{"t":84,"n":21},{"t":70,"n":21},{"t":47,"n":21},{"t":38,"n":21},{"t":27,"n":21},{"t":5,"n":21},
{"t":195,"n":22},{"t":178,"n":22},{"t":161,"n":22},{"t":149,"n":22},{"t":134,"n":22},{"t":122,"n":22},{"t":115,"n":22},{"t":91,"n":22},{"t":77,"n":22},{"t":66,"n":22},{"t":52,"n":22},{"t":34,"n":22},{"t":22,"n":22},{"t":9,"n":22},
{"t":191,"n":23},{"t":180,"n":23},{"t":166,"n":23},{"t":152,"n":23},{"t":144,"n":23},{"t":128,"n":23},{"t":109,"n":23},{"t":100,"n":23},{"t":81,"n":23},{"t":59,"n":23},{"t":49,"n":23},{"t":37,"n":23},{"t":15,"n":23},{"t":0,"n":23},
{"t":199,"n":24},{"t":187,"n":24},{"t":174,"n":24},{"t":160,"n":24},{"t":141,"n":24},{"t":132,"n":24},{"t":119,"n":24},{"t":95,"n":24},{"t":86,"n":24},{"t":72,"n":24},{"t":62,"n":24},{"t":41,"n":24},{"t":29,"n":24},{"t":11,"n":24},
{"t":193,"n":25},{"t":172,"n":25},{"t":169,"n":25},{"t":147,"n":25},{"t":136,"n":25},{"t":125,"n":25},{"t":113,"n":25},{"t":101,"n":25},{"t":78,"n":25},{"t":68,"n":25},{"t":53,"n":25},{"t":31,"n":25},{"t":18,"n":25},{"t":6,"n":25},
{"t":190,"n":26},{"t":184,"n":26},{"t":164,"n":26},{"t":155,"n":26},{"t":138,"n":26},{"t":118,"n":26},{"t":102,"n":26},{"t":92,"n":26},{"t":83,"n":26},{"t":57,"n":26},{"t":50,"n":26},{"t":40,"n":26},{"t":24,"n":26},{"t":3,"n":26},
{"t":197,"n":27},{"t":175,"n":27},{"t":158,"n":27},{"t":151,"n":27},{"t":143,"n":27},{"t":127,"n":27},{"t":111,"n":27},{"t":97,"n":27},{"t":75,"n":27},{"t":67,"n":27},{"t":44,"n":27},{"t":35,"n":27},{"t":20,"n":27},{"t":10,"n":27},
{"t":186,"n":28},{"t":181,"n":28},{"t":167,"n":28},{"t":148,"n":28},{"t":130,"n":28},{"t":124,"n":28},{"t":106,"n":28},{"t":88,"n":28},{"t":80,"n":28},{"t":63,"n":28},{"t":51,"n":28},{"t":33,"n":28},{"t":17,"n":28},{"t":4,"n":28},
{"t":194,"n":29},{"t":177,"n":29},{"t":162,"n":29},{"t":154,"n":29},{"t":135,"n":29},{"t":116,"n":29},{"t":108,"n":29},{"t":85,"n":29},{"t":71,"n":29},{"t":55,"n":29},{"t":46,"n":29},{"t":26,"n":29},{"t":12,"n":29},
{"t":189,"n":30},{"t":171,"n":30},{"t":165,"n":30},{"t":145,"n":30},{"t":133,"n":30},{"t":121,"n":30},{"t":103,"n":30},{"t":94,"n":30},{"t":73,"n":30},{"t":61,"n":30},{"t":42,"n":30},{"t":37,"n":30},{"t":23,"n":30},{"t":7,"n":30},
{"t":198,"n":31},{"t":183,"n":31},{"t":173,"n":31},{"t":156,"n":31},{"t":140,"n":31},{"t":129,"n":31},{"t":114,"n":31},{"t":90,"n":31},{"t":79,"n":31},{"t":65,"n":31},{"t":48,"n":31},{"t":28,"n":31},{"t":14,"n":31},{"t":1,"n":31},
{"t":192,"n":32},{"t":179,"n":32},{"t":160,"n":32},{"t":153,"n":32},{"t":131,"n":32},{"t":120,"n":32},{"t":105,"n":32},{"t":99,"n":32},{"t":77,"n":32},{"t":60,"n":32},{"t":54,"n":32},{"t":30,"n":32},{"t":19,"n":32},{"t":8,"n":32},
{"t":196,"n":33},{"t":185,"n":33},{"t":170,"n":33},{"t":146,"n":33},{"t":137,"n":33},{"t":123,"n":33},{"t":112,"n":33},{"t":96,"n":33},{"t":82,"n":33},{"t":69,"n":33},{"t":45,"n":33},{"t":39,"n":33},{"t":21,"n":33},{"t":2,"n":33},
{"t":188,"n":34},{"t":176,"n":34},{"t":163,"n":34},{"t":152,"n":34},{"t":139,"n":34},{"t":117,"n":34},{"t":100,"n":34},{"t":87,"n":34},{"t":76,"n":34},{"t":58,"n":34},{"t":41,"n":34},{"t":32,"n":34},{"t":13,"n":34},
{"t":195,"n":35},{"t":180,"n":35},{"t":157,"n":35},{"t":149,"n":35},{"t":134,"n":35},{"t":126,"n":35},{"t":109,"n":35},{"t":93,"n":35},{"t":72,"n":35},{"t":64,"n":35},{"t":53,"n":35},{"t":36,"n":35},{"t":16,"n":35},{"t":5,"n":35},
{"t":191,"n":36},{"t":174,"n":36},{"t":168,"n":36},{"t":150,"n":36},{"t":132,"n":36},{"t":119,"n":36},{"t":110,"n":36},{"t":91,"n":36},{"t":84,"n":36},{"t":70,"n":36},{"t":52,"n":36},{"t":29,"n":36},{"t":22,"n":36},{"t":11,"n":36},
{"t":199,"n":37},{"t":184,"n":37},{"t":166,"n":37},{"t":159,"n":37},{"t":142,"n":37},{"t":122,"n":37},{"t":115,"n":37},{"t":98,"n":37},{"t":74,"n":37},{"t":56,"n":37},{"t":49,"n":37},{"t":38,"n":37},{"t":15,"n":37},{"t":0,"n":37},
{"t":187,"n":38},{"t":182,"n":38},{"t":161,"n":38},{"t":144,"n":38},{"t":138,"n":38},{"t":125,"n":38},{"t":104,"n":38},{"t":89,"n":38},{"t":81,"n":38},{"t":66,"n":38},{"t":47,"n":38},{"t":34,"n":38},{"t":27,"n":38},{"t":6,"n":38},
{"t":193,"n":39},{"t":178,"n":39},{"t":169,"n":39},{"t":155,"n":39},{"t":136,"n":39},{"t":128,"n":39},{"t":113,"n":39},{"t":107,"n":39},{"t":86,"n":39},{"t":68,"n":39},{"t":62,"n":39},{"t":43,"n":39},{"t":25,"n":39},{"t":9,"n":39},
{"t":197,"n":40},{"t":190,"n":40},{"t":172,"n":40},{"t":164,"n":40},{"t":147,"n":40},{"t":141,"n":40},{"t":120,"n":40},{"t":102,"n":40},{"t":95,"n":40},{"t":78,"n":40},{"t":59,"n":40},{"t":50,"n":40},{"t":31,"n":40},{"t":18,"n":40},{"t":3,"n":40},
{"t":116,"n":1},{"t":141,"n":1},{"t":187,"n":1},{"t":18,"n":1},{"t":49,"n":1},
{"t":129,"n":2},{"t":174,"n":2},{"t":197,"n":2},{"t":59,"n":2},{"t":88,"n":2},
{"t":102,"n":3},{"t":161,"n":3},{"t":9,"n":3},{"t":35,"n":3},{"t":70,"n":3},
{"t":112,"n":4},{"t":156,"n":4},{"t":10,"n":4},{"t":46,"n":4},{"t":77,"n":4},
{"t":119,"n":5},{"t":166,"n":5},{"t":187,"n":5},{"t":33,"n":5},{"t":83,"n":5},
{"t":110,"n":6},{"t":160,"n":6},{"t":26,"n":6},{"t":43,"n":6},{"t":86,"n":6},
{"t":127,"n":7},{"t":180,"n":7},{"t":17,"n":7},{"t":56,"n":7},{"t":95,"n":7},
{"t":115,"n":8},{"t":156,"n":8},{"t":14,"n":8},{"t":41,"n":8},{"t":75,"n":8},
{"t":102,"n":9},{"t":128,"n":9},{"t":168,"n":9},{"t":192,"n":9},{"t":53,"n":9},
{"t":107,"n":10},{"t":123,"n":10},{"t":152,"n":10},{"t":199,"n":10},{"t":28,"n":10},
{"t":118,"n":11},{"t":142,"n":11},{"t":161,"n":11},{"t":13,"n":11},{"t":39,"n":11},
{"t":103,"n":12},{"t":129,"n":12},{"t":169,"n":12},{"t":189,"n":12},{"t":31,"n":12},
{"t":115,"n":13},{"t":145,"n":13},{"t":181,"n":13},{"t":2,"n":13},{"t":43,"n":13},
{"t":106,"n":14},{"t":139,"n":14},{"t":158,"n":14},{"t":197,"n":14},{"t":25,"n":14},
{"t":125,"n":15},{"t":131,"n":15},{"t":167,"n":15},{"t":186,"n":15},{"t":47,"n":15},
{"t":103,"n":16},{"t":120,"n":16},{"t":157,"n":16},{"t":18,"n":16},{"t":70,"n":16},
{"t":127,"n":17},{"t":145,"n":17},{"t":174,"n":17},{"t":4,"n":17},{"t":33,"n":17},
{"t":110,"n":18},{"t":138,"n":18},{"t":177,"n":18},{"t":194,"n":18},{"t":52,"n":18},
{"t":107,"n":19},{"t":131,"n":19},{"t":166,"n":19},{"t":199,"n":19},{"t":28,"n":19},
{"t":118,"n":20},{"t":145,"n":20},{"t":161,"n":20},{"t":12,"n":20},{"t":55,"n":20},
{"t":104,"n":21},{"t":124,"n":21},{"t":152,"n":21},{"t":184,"n":21},{"t":41,"n":21},
{"t":112,"n":22},{"t":129,"n":22},{"t":158,"n":22},{"t":195,"n":22},{"t":40,"n":22},
{"t":127,"n":23},{"t":140,"n":23},{"t":180,"n":23},{"t":9,"n":23},{"t":73,"n":23},
{"t":106,"n":24},{"t":149,"n":24},{"t":191,"n":24},{"t":47,"n":24},{"t":79,"n":24},
{"t":114,"n":25},{"t":145,"n":25},{"t":182,"n":25},{"t":9,"n":25},{"t":57,"n":25},
{"t":101,"n":26},{"t":127,"n":26},{"t":170,"n":26},{"t":25,"n":26},{"t":86,"n":26},
{"t":109,"n":27},{"t":133,"n":27},{"t":163,"n":27},{"t":195,"n":27},{"t":43,"n":27},
{"t":126,"n":28},{"t":141,"n":28},{"t":184,"n":28},{"t":26,"n":28},{"t":75,"n":28},
{"t":112,"n":29},{"t":130,"n":29},{"t":172,"n":29},{"t":3,"n":29},{"t":36,"n":29},
{"t":119,"n":30},{"t":145,"n":30},{"t":160,"n":30},{"t":14,"n":30},{"t":47,"n":30},
{"t":108,"n":31},{"t":135,"n":31},{"t":152,"n":31},{"t":196,"n":31},{"t":62,"n":31},
{"t":113,"n":32},{"t":131,"n":32},{"t":155,"n":32},{"t":186,"n":32},{"t":58,"n":32},
{"t":121,"n":33},{"t":144,"n":33},{"t":169,"n":33},{"t":11,"n":33},{"t":43,"n":33},
{"t":105,"n":34},{"t":129,"n":34},{"t":172,"n":34},{"t":191,"n":34},{"t":49,"n":34},
{"t":129,"n":35},{"t":157,"n":35},{"t":183,"n":35},{"t":18,"n":35},{"t":73,"n":35},
{"t":116,"n":36},{"t":158,"n":36},{"t":197,"n":36},{"t":39,"n":36},{"t":58,"n":36},
{"t":124,"n":37},{"t":148,"n":37},{"t":192,"n":37},{"t":12,"n":37},{"t":71,"n":37},
{"t":103,"n":38},{"t":144,"n":38},{"t":187,"n":38},{"t":27,"n":38},{"t":80,"n":38},
{"t":137,"n":39},{"t":151,"n":39},{"t":199,"n":39},{"t":46,"n":39},{"t":83,"n":39},
{"t":114,"n":40},{"t":166,"n":40},{"t":188,"n":40},{"t":13,"n":40},{"t":58,"n":40}],
"hb":[{"lo":0.1630,"hi":0.1714,"c":3},{"lo":0.1714,"hi":0.1798,"c":4},{"lo":0.1798,"hi":0.1882,"c":12},{"lo":0.1882,"hi":0.1966,"c":16},{"lo":0.1966,"hi":0.2050,"c":22},{"lo":0.2050,"hi":0.2134,"c":32},{"lo":0.2134,"hi":0.2218,"c":45},{"lo":0.2218,"hi":0.2302,"c":51},{"lo":0.2302,"hi":0.2386,"c":43},{"lo":0.2386,"hi":0.2470,"c":52},{"lo":0.2470,"hi":0.2554,"c":35},{"lo":0.2554,"hi":0.2638,"c":32},{"lo":0.2638,"hi":0.2722,"c":28},{"lo":0.2722,"hi":0.2806,"c":14},{"lo":0.2806,"hi":0.2890,"c":3},{"lo":0.2890,"hi":0.2974,"c":3},{"lo":0.2974,"hi":0.3058,"c":2},{"lo":0.3058,"hi":0.3142,"c":1},{"lo":0.3142,"hi":0.3226,"c":1}],
"hc":[{"lo":0.5603,"hi":0.5960,"c":4},{"lo":0.5960,"hi":0.6317,"c":4},{"lo":0.6317,"hi":0.6674,"c":13},{"lo":0.6674,"hi":0.7031,"c":15},{"lo":0.7031,"hi":0.7388,"c":27},{"lo":0.7388,"hi":0.7745,"c":45},{"lo":0.7745,"hi":0.8102,"c":40},{"lo":0.8102,"hi":0.8459,"c":54},{"lo":0.8459,"hi":0.8816,"c":53},{"lo":0.8816,"hi":0.9173,"c":43},{"lo":0.9173,"hi":0.9530,"c":27},{"lo":0.9530,"hi":0.9887,"c":22},{"lo":0.9887,"hi":1.0244,"c":16},{"lo":1.0244,"hi":1.0601,"c":12},{"lo":1.0601,"hi":1.0958,"c":9},{"lo":1.0958,"hi":1.1315,"c":4},{"lo":1.1315,"hi":1.1672,"c":5},{"lo":1.1672,"hi":1.2029,"c":2},{"lo":1.2029,"hi":1.2386,"c":1},{"lo":1.3100,"hi":1.3457,"c":1}],
"he":[{"lo":0.1534,"hi":0.1621,"c":1},{"lo":0.1621,"hi":0.1708,"c":1},{"lo":0.1708,"hi":0.1794,"c":2},{"lo":0.1794,"hi":0.1881,"c":9},{"lo":0.1881,"hi":0.1968,"c":15},{"lo":0.1968,"hi":0.2055,"c":30},{"lo":0.2055,"hi":0.2142,"c":33},{"lo":0.2142,"hi":0.2228,"c":48},{"lo":0.2228,"hi":0.2315,"c":47},{"lo":0.2315,"hi":0.2402,"c":43},{"lo":0.2402,"hi":0.2489,"c":36},{"lo":0.2489,"hi":0.2576,"c":46},{"lo":0.2576,"hi":0.2662,"c":39},{"lo":0.2662,"hi":0.2749,"c":25},{"lo":0.2749,"hi":0.2836,"c":10},{"lo":0.2836,"hi":0.2923,"c":9},{"lo":0.2923,"hi":0.3010,"c":6},{"lo":0.3010,"hi":0.3096,"c":2},{"lo":0.3096,"hi":0.3183,"c":1}],
"hf":[{"lo":0.5223,"hi":0.5581,"c":4},{"lo":0.5581,"hi":0.5939,"c":16},{"lo":0.5939,"hi":0.6297,"c":23},{"lo":0.6297,"hi":0.6655,"c":36},{"lo":0.6655,"hi":0.7013,"c":41},{"lo":0.7013,"hi":0.7371,"c":60},{"lo":0.7371,"hi":0.7729,"c":49},{"lo":0.7729,"hi":0.8087,"c":44},{"lo":0.8087,"hi":0.8445,"c":33},{"lo":0.8445,"hi":0.8803,"c":32},{"lo":0.8803,"hi":0.9161,"c":26},{"lo":0.9161,"hi":0.9519,"c":11},{"lo":0.9519,"hi":0.9877,"c":4},{"lo":0.9877,"hi":1.0235,"c":8},{"lo":1.0235,"hi":1.0593,"c":4},{"lo":1.1309,"hi":1.1667,"c":2},{"lo":1.2025,"hi":1.2383,"c":1}]
},
"columns":3,
"spacing":{"row":48,"column":39},
"bounds":"flush",
"concat":[
 {"width":383,"height":113,
  "title":{"text":"A","anchor":"start","offset":-10,"dx":-61,"dy":20,"fontSize":14,"baseline":"alphabetic"},
  "layer":[
   {"data":{"name":"ra"},"mark":{"type":"square","size":3,"color":"#8585ff","opacity":0.9},
    "encoding":{
     "x":{"field":"t","type":"quantitative","scale":{"domain":[0,200],"nice":false,"zero":false},"axis":{"values":[0,20,40,60,80,100,120,140,160,180,200],"labelExpr":"datum.value == 200 ? 'time t' : (datum.value % 40 == 0 ? datum.label : '')","labelAlign":{"condition":{"test":"datum.value == 200","value":"right"},"value":"center"},"labelPadding":14,"title":null}},
     "y":{"field":"n","type":"quantitative","scale":{"domain":[0.5,40.5],"range":[80,0],"nice":false,"zero":false},"axis":{"orient":"left","values":[5,10,15,20,25,30,35,40],"labelExpr":"datum.value == 20 || datum.value == 40 ? datum.label : ''","labelOffset":4,"labelPadding":8,"title":"neuron","titleX":-28,"titleY":34,"titleBaseline":"bottom"}}}},
   {"layer":[
     {"data":{"name":"sa"},"mark":{"type":"rule","color":"#a8a8ff","strokeWidth":1},"encoding":{"x":{"field":"t","type":"quantitative"},"y":{"datum":0.3,"type":"quantitative"},"y2":{"datum":2}}},
     {"data":{"name":"va"},"mark":{"type":"line","color":"#1414ff","strokeWidth":1},"encoding":{"x":{"field":"t","type":"quantitative"},"y":{"field":"v","type":"quantitative","scale":{"domain":[-2,2],"range":[113,80],"nice":false},"axis":{"orient":"left","values":[-2,2],"labelPadding":8,"title":"V₁(t)","titleX":-29,"titleY":98,"titleBaseline":"bottom"}}}},
     {"data":{"name":"sep"},"mark":{"type":"rule","color":"#333333","strokeWidth":1},"encoding":{"y":{"field":"v","type":"quantitative"}}}
   ]}
  ],
  "resolve":{"scale":{"y":"independent"},"axis":{"y":"independent"}}
 },
 {"width":116,"height":113,
  "title":{"text":"B","anchor":"end","offset":-22,"dx":-10,"dy":17,"fontSize":16,"baseline":"alphabetic"},
  "data":{"name":"hb"},
  "mark":{"type":"rect","fill":"#34349a","stroke":"#1c1c50","strokeWidth":1},
  "encoding":{
   "x":{"field":"lo","type":"quantitative","scale":{"domain":[0.15,0.35],"nice":false,"zero":false},"axis":{"values":[0.15,0.2,0.25,0.3,0.35],"labelExpr":"datum.value == 0.25 ? 'νᵢ' : (datum.value == 0.15 || datum.value == 0.35 ? datum.label : '')","labelPadding":14,"title":null}},
   "x2":{"field":"hi"},
   "y":{"field":"c","type":"quantitative","scale":{"domain":[0,60],"nice":false},"axis":{"values":[0,10,20,30,40,50],"labelExpr":"datum.value == 0 || datum.value == 50 ? datum.label : ''","labelPadding":8,"title":"pᵥ","titleX":-12,"titleY":36,"titleBaseline":"bottom"}},
   "y2":{"datum":0}
  }},
 {"width":109,"height":113,
  "title":{"text":"C","anchor":"end","offset":-23,"dx":-5,"dy":18,"fontSize":16,"baseline":"alphabetic"},
  "data":{"name":"hc"},
  "mark":{"type":"rect","fill":"#34349a","stroke":"#1c1c50","strokeWidth":1},
  "encoding":{
   "x":{"field":"lo","type":"quantitative","scale":{"domain":[0.5,1.4],"nice":false,"zero":false},"axis":{"values":[0.5,0.6,0.7,0.8,0.9,1,1.1,1.2,1.3,1.4],"labelExpr":"datum.value == 1 ? 'CVᵢ' : (datum.value == 0.5 || datum.value == 1.4 ? datum.label : '')","labelPadding":14,"title":null}},
   "x2":{"field":"hi"},
   "y":{"field":"c","type":"quantitative","scale":{"domain":[0,65],"nice":false},"axis":{"values":[0,10,20,30,40,50,60],"labelExpr":"datum.value == 0 || datum.value == 60 ? datum.label : ''","labelPadding":8,"title":"pᴄᴠ","titleX":-13,"titleY":28,"titleBaseline":"bottom"}},
   "y2":{"datum":0}
  }},
 {"width":383,"height":113,
  "title":{"text":"D","anchor":"start","offset":-11,"dx":-61,"dy":18,"fontSize":14,"baseline":"alphabetic"},
  "layer":[
   {"data":{"name":"rd"},"mark":{"type":"square","size":3,"color":"#8585ff","opacity":0.9},
    "encoding":{
     "x":{"field":"t","type":"quantitative","scale":{"domain":[0,200],"nice":false,"zero":false},"axis":{"values":[0,20,40,60,80,100,120,140,160,180,200],"labelExpr":"datum.value == 200 ? 'time t' : (datum.value % 40 == 0 ? datum.label : '')","labelAlign":{"condition":{"test":"datum.value == 200","value":"right"},"value":"center"},"labelPadding":14,"title":null}},
     "y":{"field":"n","type":"quantitative","scale":{"domain":[0.5,40.5],"range":[80,0],"nice":false,"zero":false},"axis":{"orient":"left","values":[5,10,15,20,25,30,35,40],"labelExpr":"datum.value == 20 || datum.value == 40 ? datum.label : ''","labelOffset":4,"labelPadding":8,"title":"neuron","titleX":-28,"titleY":34,"titleBaseline":"bottom"}}}},
   {"layer":[
     {"data":{"name":"sd"},"mark":{"type":"rule","color":"#a8a8ff","strokeWidth":1},"encoding":{"x":{"field":"t","type":"quantitative"},"y":{"datum":0.4,"type":"quantitative"},"y2":{"datum":2}}},
     {"data":{"name":"vd"},"mark":{"type":"line","color":"#1414ff","strokeWidth":1},"encoding":{"x":{"field":"t","type":"quantitative"},"y":{"field":"v","type":"quantitative","scale":{"domain":[-2,2],"range":[113,80],"nice":false},"axis":{"orient":"left","values":[-2,2],"labelPadding":8,"title":"V₁(t)","titleX":-29,"titleY":98,"titleBaseline":"bottom"}}}},
     {"data":{"name":"sep"},"mark":{"type":"rule","color":"#333333","strokeWidth":1},"encoding":{"y":{"field":"v","type":"quantitative"}}}
   ]}
  ],
  "resolve":{"scale":{"y":"independent"},"axis":{"y":"independent"}}
 },
 {"width":116,"height":113,
  "title":{"text":"E","anchor":"end","offset":-23,"dx":-10,"dy":16,"fontSize":16,"baseline":"alphabetic"},
  "data":{"name":"he"},
  "mark":{"type":"rect","fill":"#34349a","stroke":"#1c1c50","strokeWidth":1},
  "encoding":{
   "x":{"field":"lo","type":"quantitative","scale":{"domain":[0.15,0.35],"nice":false,"zero":false},"axis":{"values":[0.15,0.2,0.25,0.3,0.35],"labelExpr":"datum.value == 0.25 ? 'νᵢ' : (datum.value == 0.15 || datum.value == 0.35 ? datum.label : '')","labelPadding":14,"title":null}},
   "x2":{"field":"hi"},
   "y":{"field":"c","type":"quantitative","scale":{"domain":[0,60],"nice":false},"axis":{"values":[0,10,20,30,40,50],"labelExpr":"datum.value == 0 || datum.value == 50 ? datum.label : ''","labelPadding":8,"title":"pᵥ","titleX":-12,"titleY":51,"titleBaseline":"bottom"}},
   "y2":{"datum":0}
  }},
 {"width":109,"height":113,
  "title":{"text":"F","anchor":"end","offset":-23,"dx":-3,"dy":16,"fontSize":16,"baseline":"alphabetic"},
  "data":{"name":"hf"},
  "mark":{"type":"rect","fill":"#34349a","stroke":"#1c1c50","strokeWidth":1},
  "encoding":{
   "x":{"field":"lo","type":"quantitative","scale":{"domain":[0.5,1.4],"nice":false,"zero":false},"axis":{"values":[0.5,0.6,0.7,0.8,0.9,1,1.1,1.2,1.3,1.4],"labelExpr":"datum.value == 1 ? 'CVᵢ' : (datum.value == 0.5 || datum.value == 1.4 ? datum.label : '')","labelPadding":14,"title":null}},
   "x2":{"field":"hi"},
   "y":{"field":"c","type":"quantitative","scale":{"domain":[0,65],"nice":false},"axis":{"values":[0,10,20,30,40,50,60],"labelExpr":"datum.value == 0 || datum.value == 60 ? datum.label : ''","labelPadding":8,"title":"pᴄᴠ","titleX":-13,"titleY":38,"titleBaseline":"bottom"}},
   "y2":{"datum":0}
  }}
]
}
